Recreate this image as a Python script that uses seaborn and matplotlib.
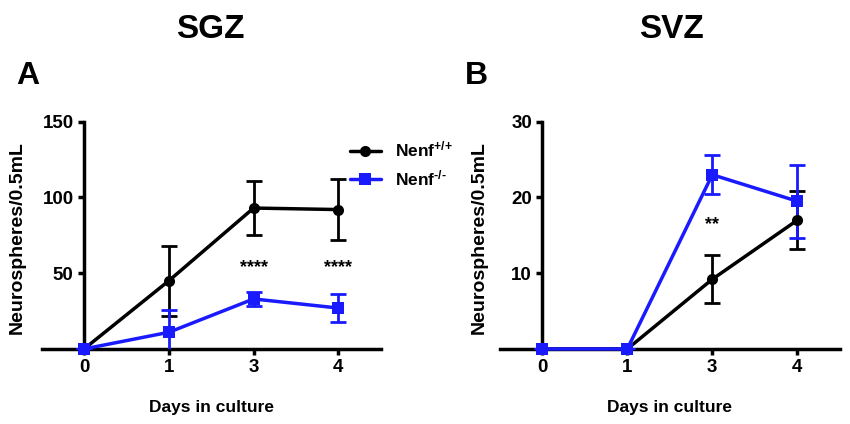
import numpy as np
import pandas as pd
import matplotlib
matplotlib.use('Agg')
import matplotlib.pyplot as plt
import seaborn as sns

days = ['0', '1', '3', '4']
genotypes = ['+/+', '-/-']

# SGZ (panel A)
sgz_wt = [0, 45, 93, 92]
sgz_wt_err = [0, 23, 18, 20]
sgz_ko = [0, 11, 33, 27]
sgz_ko_err = [0, 15, 4.7, 9]

# SVZ (panel B)
svz_wt = [0, 0, 9.2, 17]
svz_wt_err = [0, 0, 3.2, 3.8]
svz_ko = [0, 0, 23, 19.5]
svz_ko_err = [0, 0, 2.6, 4.8]

sgz_stars = [('', None), ('', None), ('****', 54), ('****', 54)]
svz_stars = [('', None), ('', None), ('**', 16.4), ('', None)]

sns.set_style('ticks')
plt.rcParams['font.family'] = ['Liberation Sans', 'DejaVu Sans']
plt.rcParams['font.weight'] = 'bold'
plt.rcParams['text.color'] = 'black'
plt.rcParams['axes.labelcolor'] = 'black'
plt.rcParams['xtick.color'] = 'black'
plt.rcParams['ytick.color'] = 'black'
plt.rcParams['axes.edgecolor'] = 'black'
plt.rcParams['mathtext.fontset'] = 'custom'
plt.rcParams['mathtext.rm'] = 'Liberation Sans:bold'
plt.rcParams['mathtext.bf'] = 'Liberation Sans:bold'
plt.rcParams['mathtext.it'] = 'Liberation Sans:bold'

palette = {'+/+': 'black', '-/-': '#1a1aff'}
markers = {'+/+': 'o', '-/-': 's'}


def make_df(wt, wt_err, ko, ko_err):
    rows = []
    for i, d in enumerate(days):
        rows.append({'pos': i, 'day': d, 'genotype': '+/+', 'mean': wt[i], 'err': wt_err[i]})
    for i, d in enumerate(days):
        rows.append({'pos': i, 'day': d, 'genotype': '-/-', 'mean': ko[i], 'err': ko_err[i]})
    return pd.DataFrame(rows)


def draw(ax, df, ymax, yticks, stars, legend=False):
    for g in genotypes:
        sub = df[df['genotype'] == g]
        ax.errorbar(sub['pos'], sub['mean'], yerr=sub['err'], fmt='none',
                    ecolor=palette[g], elinewidth=2, capsize=6, capthick=2, zorder=3)
    n_before = len(ax.lines)
    sns.lineplot(data=df, x='pos', y='mean', hue='genotype', style='genotype',
                 palette=palette, markers=markers, dashes=False, markersize=8,
                 linewidth=2.5, markeredgewidth=0, ax=ax, legend=legend, zorder=4)
    for line in ax.lines[n_before:]:
        line.set_clip_on(False)
    for i, (s, y) in enumerate(stars):
        if s:
            ax.text(i, y, s, ha='center', va='center', fontsize=13, fontweight='bold')

    ax.set_xlim(-0.5, 3.5)
    ax.set_ylim(0, ymax)
    ax.set_xticks(range(len(days)))
    ax.set_xticklabels(days)
    ax.set_yticks(yticks)
    ax.spines['top'].set_visible(False)
    ax.spines['right'].set_visible(False)
    ax.spines['left'].set_position(('data', 0))
    ax.spines['left'].set_linewidth(2.5)
    ax.spines['bottom'].set_linewidth(2.5)
    ax.tick_params(width=2.5, length=4, labelsize=13.5, direction='out')
    for lab in ax.get_xticklabels() + ax.get_yticklabels():
        lab.set_fontweight('bold')
    ax.set_xlabel('Days in culture', fontsize=12.5, fontweight='bold', labelpad=17)
    ax.set_ylabel('Neurospheres/0.5mL', fontsize=14, fontweight='bold')


fig = plt.figure(figsize=(8.5, 4.24), dpi=100)
ax1 = fig.add_axes([0.049, 0.177, 0.399, 0.536])
ax2 = fig.add_axes([0.588, 0.177, 0.4, 0.536])

draw(ax1, make_df(sgz_wt, sgz_wt_err, sgz_ko, sgz_ko_err), 150, [50, 100, 150], sgz_stars, legend=True)
draw(ax2, make_df(svz_wt, svz_wt_err, svz_ko, svz_ko_err), 30, [10, 20, 30], svz_stars)

ax1.yaxis.set_label_coords(-0.046, 0.49)
ax2.yaxis.set_label_coords(-0.034, 0.49)

handles, labels = ax1.get_legend_handles_labels()
ax1.legend(handles, [r'Nenf$^{\text{+/+}}$', r'Nenf$^{\text{-/-}}$'], loc='upper left',
           bbox_to_anchor=(0.393, 0.707), bbox_transform=fig.transFigure,
           frameon=False, handlelength=1.8, labelspacing=0.5,
           prop={'weight': 'bold', 'size': 12.5})

fig.text(0.248, 0.93, 'SGZ', ha='center', va='center', fontsize=24, fontweight='bold')
fig.text(0.79, 0.93, 'SVZ', ha='center', va='center', fontsize=24, fontweight='bold')
fig.text(0.033, 0.82, 'A', ha='center', va='center', fontsize=23, fontweight='bold')
fig.text(0.56, 0.82, 'B', ha='center', va='center', fontsize=23, fontweight='bold')

fig.savefig('out.png', dpi=100)
